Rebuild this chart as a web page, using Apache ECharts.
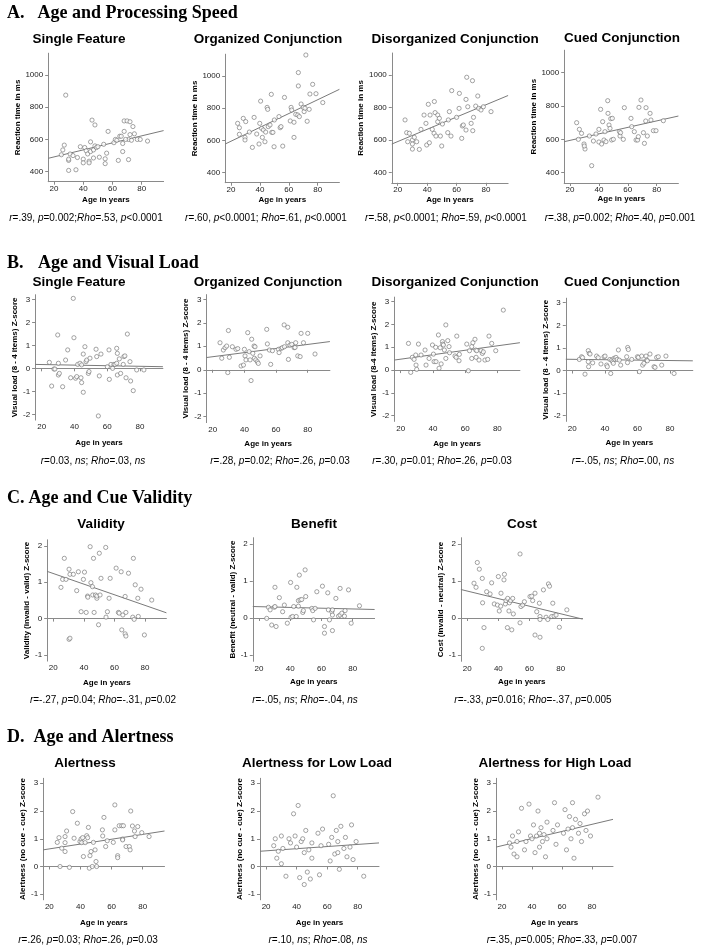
<!DOCTYPE html>
<html><head><meta charset="utf-8">
<script src="https://cdn.jsdelivr.net/npm/echarts@6/dist/echarts.min.js"></script>
<style>html,body{margin:0;padding:0;background:#fff}#c{width:710px;height:952px}</style>
</head><body><div id="c"></div>
<script>
// ---------- DATA ----------
const ticksAge = [20, 40, 60, 80];
const ticksRT = [400, 600, 800, 1000];
const ticksVL = [-2, -1, 0, 1, 2, 3];
const ticksCV = [-1, 0, 1, 2];
const ticksAL = [-1, 0, 1, 2, 3];

// A. Age and Processing Speed (age, RT ms)
const ptsA1 = [[28,875],[25,505],[26,535],[27,565],[30,470],[30,478],[30,408],[31,510],[33,500],[35,412],[36,488],[38,555],[40,478],[40,455],[41,550],[42,530],[43,510],[44,465],[44,455],[45,525],[45,585],[46,720],[47,485],[47,535],[48,690],[48,560],[49,550],[50,555],[51,490],[54,570],[55,480],[55,450],[56,515],[57,650],[61,580],[62,600],[63,595],[64,470],[65,620],[66,620],[67,525],[67,575],[68,650],[68,715],[70,715],[71,475],[71,600],[72,710],[72,630],[73,595],[74,680],[75,635],[77,600],[79,600],[84,590],[69,600]];
const fitA1 = [[16,483],[95,655]];
const ptsA2 = [[24.6,706],[25.8,679],[28.5,737],[25.8,638],[30.2,717],[29.7,619],[29.7,603],[32.7,652],[36,743],[34.8,557],[37.8,640],[39.4,578],[39.9,706],[40.5,844],[41.2,675],[41.7,619],[42.4,665],[43.5,592],[44,652],[45,805],[45.4,793],[45.8,686],[47,696],[47.9,886],[48.2,650],[49,650],[49.8,561],[50,727],[53.2,748],[54,679],[54.6,686],[55.8,565],[57,867],[61,721],[61.6,805],[62,789],[63.6,619],[63.6,713],[64.8,762],[66.6,1021],[66.6,938],[66.2,758],[67.3,748],[68.5,826],[70,805],[70.6,779],[71.2,800],[71.8,1130],[72.7,719],[74.1,793],[74.6,888],[76.5,948],[78.8,890],[83.5,835]];
const fitA2 = [[16,578],[95,917]];
const ptsA3 = [[25,724],[26.1,646],[27.9,642],[26.8,590],[30,601],[30,576],[30,545],[31.3,617],[32.9,590],[34.7,543],[35.8,666],[37.9,754],[39.2,703],[39.7,570],[40.8,820],[41.5,584],[42,754],[43.5,666],[44.7,642],[44.9,837],[45.4,769],[46,625],[47.2,754],[47.2,713],[48.3,734],[49,625],[49.9,564],[50.4,699],[54,646],[54.4,724],[55.1,775],[56.2,625],[56.7,904],[60,740],[61.7,795],[61.9,887],[63.5,611],[63.9,687],[64.6,693],[66.4,662],[66.4,850],[66.9,986],[67.6,805],[69.9,703],[70.8,965],[71,658],[71.5,740],[73,809],[74.4,871],[75,795],[76.6,785],[78.2,805],[83.4,775]];
const fitA3 = [[16,576],[95,874]];
const ptsA4 = [[24.6,700],[26.5,660],[25.8,600],[28,636],[29.7,572],[30.4,542],[29.9,560],[33.4,620],[35,442],[36.2,590],[38,632],[40,660],[40,584],[41.2,780],[41.9,572],[42.6,706],[43.5,596],[44.2,646],[44.9,586],[46.1,832],[46.3,756],[47,686],[47.7,666],[48.2,724],[48.8,596],[49.3,726],[50,600],[54.2,646],[54.6,620],[55,640],[56.9,600],[57.6,790],[62.2,726],[62.7,676],[64.5,646],[65.7,596],[66.8,596],[67.3,616],[67.7,792],[69.1,836],[70.8,640],[71.5,576],[72.4,710],[72.6,790],[73.5,620],[75.4,756],[76,716],[77.7,652],[79.5,652],[84.6,712]];
const fitA4 = [[16,586],[95,740]];

// B. Age and Visual Load (age, z-score)
const ptsB1 = [[24.7,0.26],[26.1,-0.77],[27.5,-0.03],[28.1,-0.03],[29.8,1.45],[30.2,0.22],[30.2,-0.29],[30.8,-0.22],[32.8,-0.8],[34.6,0.36],[35.9,0.8],[37.7,-0.41],[39.3,3.04],[39.7,1.33],[40.7,-0.43],[41.4,-0.36],[42,0.17],[43.4,0.22],[44,-0.41],[44.4,0.15],[44.4,-0.62],[45.4,0.62],[45.4,-1.04],[46.4,0.94],[47.1,0.29],[47.5,0.36],[48.5,-0.22],[48.9,-0.14],[49.5,0.44],[53.2,0.83],[53.6,0.51],[54.6,-2.07],[55.2,-0.33],[56.2,0.62],[60.1,0.07],[61.1,0.8],[61.3,-0.48],[62.3,0.17],[63.3,0],[64.1,0.17],[64.8,0.17],[65.8,0.87],[66.2,0.65],[65.8,0.22],[66.2,-0.29],[67.4,0.41],[68.2,-0.22],[69.8,0.17],[70.2,0.51],[70.8,0.54],[71.5,-0.41],[72.3,1.49],[73.9,0.29],[74.3,-0.55],[75.9,-0.97],[78,-0.07],[82.4,-0.07]];
const fitB1 = [[16,0.17],[94,0.07]];
const ptsB2 = [[24.6,1.15],[25.7,0.49],[26.7,0.84],[27.8,0.94],[28.8,1.01],[29.9,1.67],[29.5,-0.12],[30.5,0.53],[32.4,0.98],[34.7,0.87],[35.8,0.9],[37.9,0.16],[39.4,0.2],[40,0.87],[40.4,0.59],[41,0.42],[42.1,1.58],[43,0.77],[43.6,0.42],[44.2,-0.46],[44.6,1.3],[45.3,0.7],[46.1,1.01],[46.7,0.98],[46.3,0.49],[47.2,0.42],[48.2,0.34],[48.8,0.27],[49.9,0.59],[54.1,1.72],[54.5,1.1],[55.8,0.84],[56.6,0.23],[57.7,0.81],[61.5,0.87],[61.9,0.73],[63.2,0.91],[64,0.94],[65.1,1.91],[65.3,0.98],[67.4,1.81],[67.4,1.15],[67.8,0.44],[68.8,1.05],[69.9,1.08],[71.4,0.94],[72,0.95],[72.4,1.15],[73.7,0.59],[75.2,0.56],[75.8,1.55],[77.3,1.15],[80,1.55],[84.6,0.67]];
const fitB2 = [[16,0.52],[94,1.2]];
const ptsB3 = [[24.8,1.17],[26.2,-0.1],[27.2,0.56],[28.3,0.47],[29.3,0.66],[29.5,0.22],[29.9,0.03],[31,1.14],[32.6,0.66],[35.1,0.88],[35.7,0.22],[37.6,0.51],[39.7,1.1],[40.3,0.7],[40.7,0.37],[41.7,1],[41.9,0.37],[43.4,1.54],[43.8,0.08],[44.5,0.98],[45.1,0.27],[45.9,1.25],[46.1,1.14],[46.5,1.1],[47.1,0.88],[48,1.98],[48,0.51],[49.2,1.29],[50,1.03],[50.3,0.76],[53.7,0.62],[54.8,1.49],[54.4,0.56],[56.2,0.41],[56.4,0.69],[61,1.14],[62,-0.03],[62.7,0.85],[64.1,1.03],[64.1,0.51],[64.8,1.2],[66.1,1.35],[66.6,0.88],[66.8,0.56],[67.2,0.85],[68.6,0.44],[69.9,0.85],[70.7,0.73],[71.3,0.8],[72.3,0.44],[74,0.47],[74.8,1.49],[76.5,1.17],[79,0.85],[83.7,2.63]];
const fitB3 = [[16,0.44],[94,1.2]];
const ptsB4 = [[24.3,0.49],[25.7,0.61],[26.3,0.57],[27.8,-0.16],[29.8,0.88],[30.4,0.76],[29.8,0.39],[30,0.17],[30.9,0.73],[32.5,0.34],[34.9,0.64],[35.9,0.57],[37.6,0.29],[39.5,0.61],[40.1,0.64],[41.1,0.24],[41.5,0.17],[43.1,0.49],[43.6,-0.13],[44.2,0.46],[44.8,0.39],[45.2,0.32],[45.6,0.54],[46.2,0.49],[46.8,0.58],[47.6,0.49],[48.3,0.91],[48.9,0.46],[49.7,0.24],[53.4,0.61],[54,1.02],[54.4,0.93],[53.9,0.35],[56.5,0.49],[60,0.61],[60.6,0.58],[61.2,-0.05],[62.6,0.64],[63.2,0.24],[64,0.32],[65.3,0.64],[65.7,0.46],[66.1,0.43],[67.7,0.73],[70.2,0.17],[70.8,0.14],[71.8,0.58],[72.8,0.61],[74.9,0.24],[77.5,0.64],[82.5,-0.13]];
const fitB4 = [[16,0.5],[94,0.43]];

// C. Age and Cue Validity (age, z-score)
const ptsC1 = [[25,0.86],[26.1,1.08],[27.2,1.66],[28.3,1.08],[30.3,1.36],[30.9,1.22],[30.3,-0.57],[30.9,-0.54],[33.1,1.22],[35.3,0.77],[36.4,1.29],[38.2,0.19],[39.7,1.08],[40.4,1.28],[41.5,0.17],[42.4,0.62],[42.6,0.59],[44.1,1.98],[44.6,0.99],[45.6,0.88],[45.8,0.65],[46.3,1.66],[46.7,0.17],[47.6,0.65],[48.5,0.56],[48.5,0.62],[49.6,-0.17],[50.1,1.8],[50.6,0.65],[51.2,1.11],[54.3,1.96],[54.5,0.04],[55.4,0.19],[56.5,0.56],[57.2,1.11],[61.1,1.39],[62.6,0.17],[63.1,0.15],[64.4,1.29],[64.8,-0.31],[65.5,0.1],[67,0.61],[67.5,0.17],[67,-0.42],[67.5,-0.48],[69.2,1.25],[72,0.04],[72.4,1.66],[72.9,-0.02],[73.6,0.93],[75.3,0.56],[75.6,0.06],[77.4,0.81],[79.6,-0.45],[84.4,0.51]];
const fitC1 = [[16,1.3],[94,0.16]];
const ptsC2 = [[24.9,-0.01],[26,0.29],[27.1,0.22],[28.1,-0.19],[29.8,0.29],[30.2,0.31],[30.2,0.83],[30.9,-0.23],[33,0.55],[35.1,0.17],[36.2,0.35],[38.1,-0.14],[40.2,0.96],[40.5,0.02],[41.5,0.04],[42.2,0.31],[43.8,0.04],[44.2,0.83],[45.2,0.47],[45.2,0.32],[45.8,1.16],[46.3,0.49],[47.3,0.5],[48,0.15],[48.4,0.2],[49.5,1.3],[49.9,0.58],[53.8,0.26],[54.4,0.2],[54.9,-0.05],[55.9,0.26],[57,0.71],[60.6,0.86],[61.9,-0.23],[61.9,-0.41],[64,0.68],[64.4,0.22],[65.1,-0.05],[66.6,0.17],[67,0.22],[67,0.08],[67,-0.34],[69.2,0.53],[70.9,0.05],[71.9,0.08],[71.9,0.8],[73,0.13],[74.7,0.05],[75.1,0.2],[77.3,0.76],[79,-0.14],[84.3,0.33]];
const fitC2 = [[16,0.31],[94,0.23]];
const ptsC3 = [[26.5,1.5],[27.8,1.32],[24.4,0.94],[25.7,0.83],[29.7,1.07],[29.9,0.41],[30.8,-0.26],[29.7,-0.82],[32.5,0.71],[34.7,0.65],[35.7,0.95],[37.4,0.38],[39.4,0.35],[40,1.12],[40.6,0.19],[41.5,0.32],[41.7,0.67],[43.6,1.03],[43.9,1.18],[44.5,0.38],[44.9,0.47],[45.8,-0.26],[46,0.53],[46.8,0.19],[47.1,0.41],[47.9,0.47],[48.6,-0.32],[49.2,0.53],[49.6,0.11],[53.9,1.73],[53.9,-0.13],[54.5,0.31],[55.6,0.35],[56.7,0.44],[60.3,0.58],[61.4,0.59],[62,0.47],[63.5,0.67],[63.5,-0.46],[64.6,0.17],[66.3,0.4],[66.7,0.04],[66.7,-0.04],[66.7,-0.52],[68.9,0.76],[70.6,0.02],[71.7,-0.04],[72.1,0.92],[72.8,0.86],[74.2,0.04],[74.9,0.4],[75.7,0.05],[77,0.08],[79.1,-0.25],[83.9,0.22]];
const fitC3 = [[16,0.77],[94,-0.03]];

// D. Age and Alertness (age, z-score)
const ptsD1 = [[25.1,0.87],[26.2,1.04],[26.9,0],[28,0.66],[30.1,0.86],[30.1,0.54],[30.1,1.08],[31.1,1.28],[32.9,-0.03],[35,1.98],[35.9,1.02],[38,1.56],[39.7,0.9],[40.4,0.99],[40.8,0.86],[41.4,1.04],[41.9,0.36],[43,0.86],[44,1.11],[44.6,1.04],[45.1,1.41],[45.7,-0.06],[46.1,0.39],[46.8,0.54],[47.6,0],[48.3,0.87],[49.4,0.6],[50,0.18],[50.4,0],[54.1,1.32],[54.3,1.1],[55.1,1.77],[56.2,0.72],[57.2,0.93],[61.1,0.87],[62.1,2.22],[62.1,1.32],[63.9,0.39],[63.9,0.32],[64.9,1.47],[66.5,1.47],[67.1,0.99],[67.1,0.96],[67.6,1.47],[69.3,0.72],[71.4,0.72],[71.9,0.6],[72.3,2],[73.4,1.46],[74.7,1.28],[75.1,1.08],[76.8,1.44],[79.4,1.22],[84.1,1.08]];
const fitD1 = [[16,0.6],[94,1.28]];
const ptsD2 = [[25,0.75],[26,1.0],[27,0.3],[28,0.55],[30,1.1],[30,0.1],[31,0.65],[33,-0.35],[35,1.0],[36,0.85],[38,1.9],[39,1.1],[40,0.7],[41,2.2],[42,-0.4],[43,0.9],[44,1.0],[45,0.5],[45,-0.65],[46,1.3],[47,-0.2],[48,0.6],[49,-0.45],[50,0.85],[50,0.3],[54,1.2],[55,-0.3],[56,0.75],[57,1.35],[61,0.8],[62,0.2],[63,1.05],[64,2.55],[65,0.45],[66,1.3],[67,0.9],[67,0.5],[68,-0.1],[69,1.45],[71,0.65],[72,1.05],[73,0.35],[75,0.7],[76,1.5],[77,0.25],[79,0.9],[84,-0.35]];
const fitD2 = [[16,0.55],[94,0.85]];
const ptsD3 = [[25,0.85],[26,0.7],[27,1.1],[28,0.45],[30,0.9],[30,0.35],[31,1.25],[33,2.1],[35,0.6],[36,0.9],[38,2.25],[39,1.1],[40,1.0],[41,1.5],[42,0.5],[43,1.1],[44,2.0],[45,1.2],[45,0.7],[46,1.4],[47,0.9],[48,1.15],[49,0.35],[50,1.6],[50,1.0],[54,1.3],[55,2.3],[56,0.8],[57,1.5],[61,1.2],[62,2.05],[63,0.6],[64,1.35],[65,1.8],[66,1.0],[67,2.3],[67,1.4],[68,0.3],[69,1.7],[71,1.2],[72,1.55],[73,0.9],[75,1.9],[76,1.3],[77,2.0],[79,1.1],[84,2.5]];
const fitD3 = [[16,0.7],[94,1.7]];

// ---------- LAYOUT ----------
const FONT = 'Liberation Sans';
const SERIF = 'Liberation Serif';
const P = [
 {pts:ptsA1, fit:fitA1, title:'Single Feature', yName:'Reaction time in ms', yt:ticksRT, x:[16,95], y:[338,1135], g:[48.2,53.2,115.4,128.5], tx:79, ty:39, sx:86, sy:218, xty:200, ytx:19,
  stat:'{i|r}=.39, {i|p}=0.002;{i|Rho}=.53, {i|p}<0.0001'},
 {pts:ptsA2, fit:fitA2, title:'Organized Conjunction', yName:'Reaction time in ms', yt:ticksRT, x:[16,95], y:[338,1135], g:[225.2,54.2,114.2,128.5], tx:268, ty:39, sx:266, sy:218, xty:200, ytx:196,
  stat:'{i|r}=.60, {i|p}<0.0001; {i|Rho}=.61, {i|p}<0.0001'},
 {pts:ptsA3, fit:fitA3, title:'Disorganized Conjunction', yName:'Reaction time in ms', yt:ticksRT, x:[16,95], y:[338,1135], g:[391.8,53,116.3,129.8], tx:455, ty:39, sx:446, sy:218, xty:200, ytx:362,
  stat:'{i|r}=.58, {i|p}<0.0001; {i|Rho}=.59, {i|p}<0.0001'},
 {pts:ptsA4, fit:fitA4, title:'Cued Conjunction', yName:'Reaction time in ms', yt:ticksRT, x:[16,95], y:[338,1135], g:[564.2,50.2,114.2,132.8], tx:622, ty:38, sx:620, sy:218, xty:199, ytx:534,
  stat:'{i|r}=.38, {i|p}=0.002; {i|Rho}=.40, {i|p}=0.001'},

 {pts:ptsB1, fit:fitB1, title:'Single Feature', yName:'Visual load (8 - 4 items) Z-score', yt:ticksVL, x:[16,94], y:[-2.25,3.2], g:[35.1,294.7,127.8,125.4], tx:79, ty:282, sx:93, sy:461, xty:443, ytx:15,
  stat:'{i|r}=0.03, {i|ns}; {i|Rho}=.03, {i|ns}'},
 {pts:ptsB2, fit:fitB2, title:'Organized Conjunction', yName:'Visual load (8 - 4 items) Z-score', yt:ticksVL, x:[16,94], y:[-2.25,3.2], g:[206.4,294.6,123.5,128], tx:268, ty:282, sx:280, sy:461, xty:444, ytx:185,
  stat:'{i|r}=.28, {i|p}=0.02; {i|Rho}=.26, {i|p}=0.03'},
 {pts:ptsB3, fit:fitB3, title:'Disorganized Conjunction', yName:'Visual load (8-4 items) Z-score', yt:ticksVL, x:[16,94], y:[-2.25,3.2], g:[394.3,297.1,125.6,124.3], tx:455, ty:282, sx:442, sy:461, xty:444, ytx:376,
  stat:'{i|r}=.30, {i|p}=0.01; {i|Rho}=.26, {i|p}=0.03'},
 {pts:ptsB4, fit:fitB4, title:'Cued Conjunction', yName:'Visual load (8 - 4 items) Z-score', yt:ticksVL, x:[16,94], y:[-2.25,3.2], g:[565.8,298.2,127,123.2], tx:622, ty:282, sx:623, sy:461, xty:443, ytx:547,
  stat:'{i|r}=-.05, {i|ns}; {i|Rho}=.00, {i|ns}'},

 {pts:ptsC1, fit:fitC1, title:'Validity', yName:'Validity (invalid - valid) Z-score', yt:ticksCV, x:[16,94], y:[-1.17,2.17], g:[47.2,539.8,119.2,121.3], tx:101, ty:524, sx:103, sy:700, xty:683, ytx:29,
  stat:'{i|r}=-.27, {i|p}=0.04; {i|Rho}=-.31, {i|p}=0.02'},
 {pts:ptsC2, fit:fitC2, title:'Benefit', yName:'Benefit (neutral - valid) Z-score', yt:ticksCV, x:[16,94], y:[-1.17,2.17], g:[252.8,537.7,121.8,123.6], tx:314, ty:524, sx:305, sy:700, xty:682, ytx:233,
  stat:'{i|r}=-.05, {i|ns}; {i|Rho}=-.04, {i|ns}'},
 {pts:ptsC3, fit:fitC3, title:'Cost', yName:'Cost (invalid - neutral) Z-score', yt:ticksCV, x:[16,94], y:[-1.17,2.17], g:[460.9,537.7,121.7,123.6], tx:522, ty:524, sx:533, sy:700, xty:682, ytx:442,
  stat:'{i|r}=-.33, {i|p}=0.016; {i|Rho}=-.37, {i|p}=0.005'},

 {pts:ptsD1, fit:fitD1, title:'Alertness', yName:'Alertness (no cue - cue) Z-score', yt:ticksAL, x:[16,94], y:[-1.2,3.18], g:[43.1,778.3,121.4,121.5], tx:85, ty:763, sx:88, sy:940, xty:923, ytx:25,
  stat:'{i|r}=.26, {i|p}=0.03; {i|Rho}=.26, {i|p}=0.03'},
 {pts:ptsD2, fit:fitD2, title:'Alertness for Low Load', yName:'Alertness (no cue - cue) Z-score', yt:ticksAL, x:[16,94], y:[-1.2,3.18], g:[260,778.3,119,121.5], tx:317, ty:763, sx:318, sy:940, xty:923, ytx:243,
  stat:'{i|r}=.10, {i|ns}; {i|Rho}=.08, {i|ns}'},
 {pts:ptsD3, fit:fitD3, title:'Alertness for High Load', yName:'Alertness (no cue - cue) Z-score', yt:ticksAL, x:[16,94], y:[-1.2,3.18], g:[496,778.3,117,121.5], tx:555, ty:763, sx:562, sy:940, xty:923, ytx:479,
  stat:'{i|r}=.35, {i|p}=0.005; {i|Rho}=.33, {i|p}=0.007'}
];

const sections = [
 {tag:'A.', text:'Age and Processing Speed', x1:7, x2:37.5, y:13},
 {tag:'B.', text:'Age and Visual Load', x1:7, x2:38, y:263},
 {tag:'C.', text:'Age and Cue Validity', x1:7, x2:28.5, y:498},
 {tag:'D.', text:'Age and Alertness', x1:7, x2:33.5, y:737}
];

// ---------- BUILD ----------
const AX = '#8a8a8a';
const fmt = v => String(v);
const grid = [], xAxis = [], yAxis = [], series = [], graphic = [];
P.forEach((p, i) => {
  const [l, t, w, h] = p.g;
  grid.push({left: l, top: t, width: w, height: h, containLabel: false, outerBoundsMode: 'none'});
  const common = {
    type: 'value', gridIndex: i, nameLocation: 'middle',
    nameTextStyle: {fontFamily: FONT, fontWeight: 'bold', fontSize: 8, color: '#000'},
    axisLine: {show: true, lineStyle: {color: AX, width: 1}},
    splitLine: {show: false}
  };
  xAxis.push(Object.assign({}, common, {
    min: p.x[0], max: p.x[1], name: 'Age in years', nameGap: p.xty - (t + h) - 4.5,
    axisTick: {show: true, customValues: ticksAge, length: 3, lineStyle: {color: AX}},
    axisLabel: {customValues: ticksAge, formatter: fmt, fontSize: 8, color: '#222', margin: 3, fontFamily: FONT}
  }));
  yAxis.push(Object.assign({}, common, {
    min: p.y[0], max: p.y[1], name: p.yName, nameRotate: 90, nameGap: l - p.ytx - 4.5,
    axisTick: {show: true, customValues: p.yt, length: 3, lineStyle: {color: AX}},
    axisLabel: {customValues: p.yt, formatter: fmt, fontSize: 8, color: '#222', margin: 5, fontFamily: FONT}
  }));
  series.push({type: 'line', xAxisIndex: i, yAxisIndex: i, data: p.fit, symbol: 'none', silent: true,
    lineStyle: {color: '#7a7a7a', width: 1}, z: 2, animation: false});
  series.push({type: 'scatter', xAxisIndex: i, yAxisIndex: i, data: p.pts, symbol: 'circle', symbolSize: 4.2,
    silent: true, itemStyle: {color: '#fff', borderColor: '#707070', borderWidth: 0.8}, z: 3, animation: false});
  graphic.push({type: 'text', x: p.tx, y: p.ty, silent: true, style: {
    text: p.title, fontFamily: FONT, fontWeight: 'bold', fontSize: 13.5, fill: '#000', align: 'center', verticalAlign: 'middle'}});
  graphic.push({type: 'text', x: p.sx, y: p.sy, silent: true, style: {
    text: p.stat, fontFamily: FONT, fontSize: 10, fill: '#000', align: 'center', verticalAlign: 'middle',
    rich: {i: {fontFamily: FONT, fontSize: 10, fontStyle: 'italic', fill: '#000'}}}});
});
sections.forEach(s => {
  graphic.push({type: 'text', x: s.x1, y: s.y, silent: true, style: {text: s.tag, fontFamily: SERIF, fontWeight: 'bold', fontSize: 18, fill: '#000', verticalAlign: 'middle'}});
  graphic.push({type: 'text', x: s.x2, y: s.y, silent: true, style: {text: s.text, fontFamily: SERIF, fontWeight: 'bold', fontSize: 18, fill: '#000', verticalAlign: 'middle'}});
});

const chart = echarts.init(document.getElementById('c'), null, {renderer: 'canvas'});
chart.setOption({backgroundColor: '#fff', animation: false, grid, xAxis, yAxis, series, graphic});
</script></body></html>
